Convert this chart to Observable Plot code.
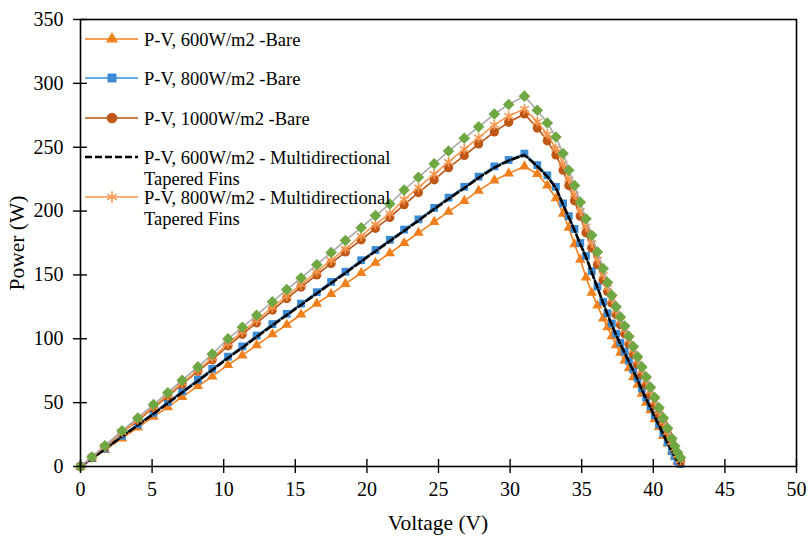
<!DOCTYPE html>
<html><head><meta charset="utf-8">
<script src="https://cdn.jsdelivr.net/npm/d3@7"></script>
<script src="https://cdn.jsdelivr.net/npm/@observablehq/plot@0.6"></script>
<style>
body{margin:0;background:#fff;}
#wrap{position:relative;width:809px;height:542px;overflow:hidden;}
#wrap svg{position:absolute;left:0;top:0;}
</style></head><body><div id="wrap"></div>
<script>
// ---- data ----
const voltsRise = [0, 0.8, 1.7, 2.9, 4.0, 5.1, 6.1, 7.1, 8.2, 9.2, 10.3, 11.3, 12.3, 13.4, 14.4, 15.4, 16.5, 17.5, 18.5, 19.6, 20.6, 21.6, 22.6, 23.6, 24.7, 25.7, 26.8, 27.8, 28.9, 29.9, 31.0];
const voltsFall = [31.9, 32.6, 33.2, 33.7, 34.1, 34.5, 34.9, 35.3, 35.7, 36.1, 36.5, 36.8, 37.1, 37.4, 37.7, 38.0, 38.3, 38.6, 38.9, 39.2, 39.5, 39.8, 40.1, 40.4, 40.7, 41.0, 41.3, 41.5, 41.7, 41.9];

const p600Bare = [0, 6, 13, 22, 30.5, 39, 46.5, 54.5, 63, 70.5, 79.5, 87, 95, 103.5, 111, 119, 127.5, 135, 143, 151.5, 159.5, 167, 175, 183, 191.5, 199.5, 208, 216, 224, 229.5, 235,
  229, 220, 210, 198, 187, 174, 162, 148, 136, 126, 116, 109, 102, 95, 89, 83, 77, 70, 64, 57, 50, 44, 37, 31, 24, 18, 12, 8, 4, 2];
const p800Bare = [0, 6.5, 14, 24, 33, 42, 50.5, 59, 68, 76.5, 86, 94, 102.5, 111.5, 119.5, 127.5, 136.5, 144.5, 152.5, 161.5, 169.5, 177.5, 185.5, 193.5, 202.5, 210.5, 219, 227, 235, 240, 245,
  236, 228, 219, 206, 196, 186, 175, 165, 153, 141, 129, 120, 112, 104, 97, 90, 83, 76, 69, 61, 54, 47, 40, 33, 26, 19, 12, 8, 4, 2];
const p1000Bare = [0, 7.2, 15.5, 26.5, 36, 46, 55, 64.5, 74.5, 83.5, 94.5, 103.5, 112.5, 122.5, 131.5, 140.5, 150, 159, 168, 177.5, 186.5, 195, 205, 214.5, 224.5, 234, 243.5, 252.5, 262, 269.5, 276,
  265, 255, 244, 232, 220, 208, 196, 183, 171, 158, 146, 137, 128, 119, 111, 104, 96, 88, 80, 72, 64, 56, 48, 41, 33, 25, 18, 13, 8, 4];
const p600Fins = [0, 6.3, 13.6, 23.5, 32.3, 41.2, 49.6, 58, 67, 75.5, 85, 93, 101.5, 110.5, 118.5, 126.5, 135.5, 143.5, 151.5, 160.5, 168.5, 176.5, 184.5, 192.5, 201.5, 209.5, 218, 226, 234, 239.5, 244,
  235, 227, 218, 205, 195, 185, 174, 164, 152, 140, 128, 119, 111, 103, 96, 89, 82, 75, 68, 60, 53, 46, 39, 32, 25, 18, 12, 8, 4, 2];
const p800Fins = [0, 7.3, 15.8, 27, 36.8, 47, 56, 65.5, 75.5, 85, 96.5, 105.5, 114.5, 124.5, 133.5, 142.5, 152.5, 161.5, 170.5, 180.5, 189.5, 198, 209, 218.5, 229, 238.5, 248.5, 257.5, 267.5, 274.5, 280,
  270, 260, 249, 237, 225, 213, 200, 188, 175, 162, 150, 140, 131, 122, 114, 107, 99, 91, 83, 75, 67, 59, 51, 43, 35, 27, 19, 14, 9, 5];
const p1000Fins = [0, 7.5, 16.3, 28, 38, 48.6, 57.8, 67.6, 78, 88, 100, 109, 118.5, 129, 138.5, 147.5, 158, 167.5, 177, 187, 196.5, 205.5, 216.5, 226.5, 237, 247, 257, 266, 276, 283.5, 290,
  279, 269, 258, 245, 232, 220, 207, 194, 181, 168, 155, 144, 134, 125, 117, 110, 102, 94, 86, 78, 70, 62, 54, 46, 38, 30, 22, 16, 11, 7];

const seriesNames = ["P-V, 600W/m2 -Bare", "P-V, 800W/m2 -Bare", "P-V, 1000W/m2 -Bare",
  "P-V, 600W/m2 - Multidirectional Tapered Fins", "P-V, 800W/m2 - Multidirectional Tapered Fins",
  "P-V, 1000W/m2 - Multidirectional Tapered Fins"];
const seriesPowers = [p600Bare, p800Bare, p1000Bare, p600Fins, p800Fins, p1000Fins];
const xTicks = [0, 5, 10, 15, 20, 25, 30, 35, 40, 45, 50];
const yTicks = [0, 50, 100, 150, 200, 250, 300, 350];
const axisTitleX = "Voltage (V)";
const axisTitleY = "Power (W)";

const FONT = '"Liberation Serif", "Times New Roman", Times, serif';

// ---- styles ----
const styles = [
  {line: "#F07F1E", fill: "#F07F1E", symbol: "triangle", r: 3.9, dash: null, w: 1.6},
  {line: "#3A8AD4", fill: "#3A8AD4", symbol: "square", r: 4.4, dash: null, w: 1.6},
  {line: "#B65416", fill: "#BF5717", symbol: "circle", r: 4.6, dash: null, w: 1.6},
  {line: "#000000", fill: null, symbol: null, r: 0, dash: "7,3", w: 2.6},
  {line: "#F6964E", fill: null, stroke: "#F6964E", symbol: "asterisk", r: 4.8, dash: null, w: 1.6},
  {line: "#A9A9A9", fill: "#6FA843", symbol: "diamond2", r: 5.2, dash: null, w: 1.6}
];

const volts = voltsRise.concat(voltsFall);
const table = seriesNames.map((name, s) => volts.map((v, i) => ({series: name, v, p: seriesPowers[s][i]})));

const seriesMarks = [];
table.forEach((rows, s) => {
  const st = styles[s];
  seriesMarks.push(Plot.line(rows, {x: "v", y: "p", stroke: st.line, strokeWidth: st.w, strokeDasharray: st.dash}));
  if (st.symbol) {
    if (st.fill) seriesMarks.push(Plot.dot(rows, {x: "v", y: "p", symbol: st.symbol, r: st.r, fill: st.fill, stroke: "none"}));
    else seriesMarks.push(Plot.dot(rows, {x: "v", y: "p", symbol: st.symbol, r: st.r, stroke: st.stroke, strokeWidth: 1.6}));
  }
});

const chart = Plot.plot({
  width: 809, height: 542,
  marginLeft: 80, marginRight: 13, marginTop: 19, marginBottom: 76,
  x: {domain: [0, 50]},
  y: {domain: [0, 350]},
  style: {fontFamily: FONT, fontSize: "20px", color: "#000", background: "white"},
  marks: [
    ...seriesMarks,
    Plot.frame({stroke: "#000", strokeWidth: 1.6}),
    Plot.axisY(yTicks, {tickSize: 7, tickPadding: 10, label: null, strokeWidth: 1.4, fontSize: 20}),
    Plot.axisY(yTicks, {tickSize: 7, dx: 7, tickFormat: () => "", label: null, strokeWidth: 1.4}),
    Plot.axisX(xTicks, {tickSize: 7, tickPadding: 8, label: null, strokeWidth: 1.4, fontSize: 20}),
    Plot.axisX(xTicks, {tickSize: 7, dy: -7, tickFormat: () => "", label: null, strokeWidth: 1.4})
  ]
});
const wrap = document.getElementById("wrap");
wrap.appendChild(chart);

const ns = "http://www.w3.org/2000/svg";
const over = document.createElementNS(ns, "svg");
over.setAttribute("width", 809); over.setAttribute("height", 542);
over.style.pointerEvents = "none";

function addText(parent, x, y, str, size, attrs) {
  const t = document.createElementNS(ns, "text");
  t.setAttribute("x", x); t.setAttribute("y", y);
  t.setAttribute("font-family", FONT);
  t.setAttribute("font-size", size);
  t.setAttribute("fill", "#000");
  for (const k in (attrs || {})) t.setAttribute(k, attrs[k]);
  t.textContent = str;
  parent.appendChild(t);
  return t;
}
// axis titles
addText(over, 438, 530, axisTitleX, 21.5, {"text-anchor": "middle"});
addText(over, 0, 0, axisTitleY, 21.5, {"text-anchor": "middle", transform: "translate(24,243) rotate(-90)"});

// legend (first five entries visible, as in the reference)
const rowY = [39, 78, 118, 157, 197];
const symPath = {triangle: d3.symbolTriangle, square: d3.symbolSquare, circle: d3.symbolCircle, asterisk: d3.symbolAsterisk, diamond2: d3.symbolDiamond2};
rowY.forEach((y, s) => {
  const st = styles[s];
  const ln = document.createElementNS(ns, "line");
  ln.setAttribute("x1", 85); ln.setAttribute("x2", 138); ln.setAttribute("y1", y); ln.setAttribute("y2", y);
  ln.setAttribute("stroke", st.line); ln.setAttribute("stroke-width", st.w);
  if (st.dash) ln.setAttribute("stroke-dasharray", st.dash);
  over.appendChild(ln);
  if (st.symbol) {
    const p = document.createElementNS(ns, "path");
    p.setAttribute("d", d3.symbol(symPath[st.symbol], Math.PI * st.r * st.r * 1.3)());
    p.setAttribute("transform", `translate(112,${y})`);
    if (st.fill) p.setAttribute("fill", st.fill);
    else { p.setAttribute("fill", "none"); p.setAttribute("stroke", st.stroke); p.setAttribute("stroke-width", 1.6); }
    over.appendChild(p);
  }
  const name = seriesNames[s];
  const k = name.indexOf(" Tapered");
  if (k > 0) {
    addText(over, 144, y + 6.5, name.slice(0, k), 18.5);
    addText(over, 144, y + 27.5, name.slice(k + 1), 18.5);
  } else addText(over, 144, y + 6.5, name, 18.5);
});
wrap.appendChild(over);
</script>
</body></html>
